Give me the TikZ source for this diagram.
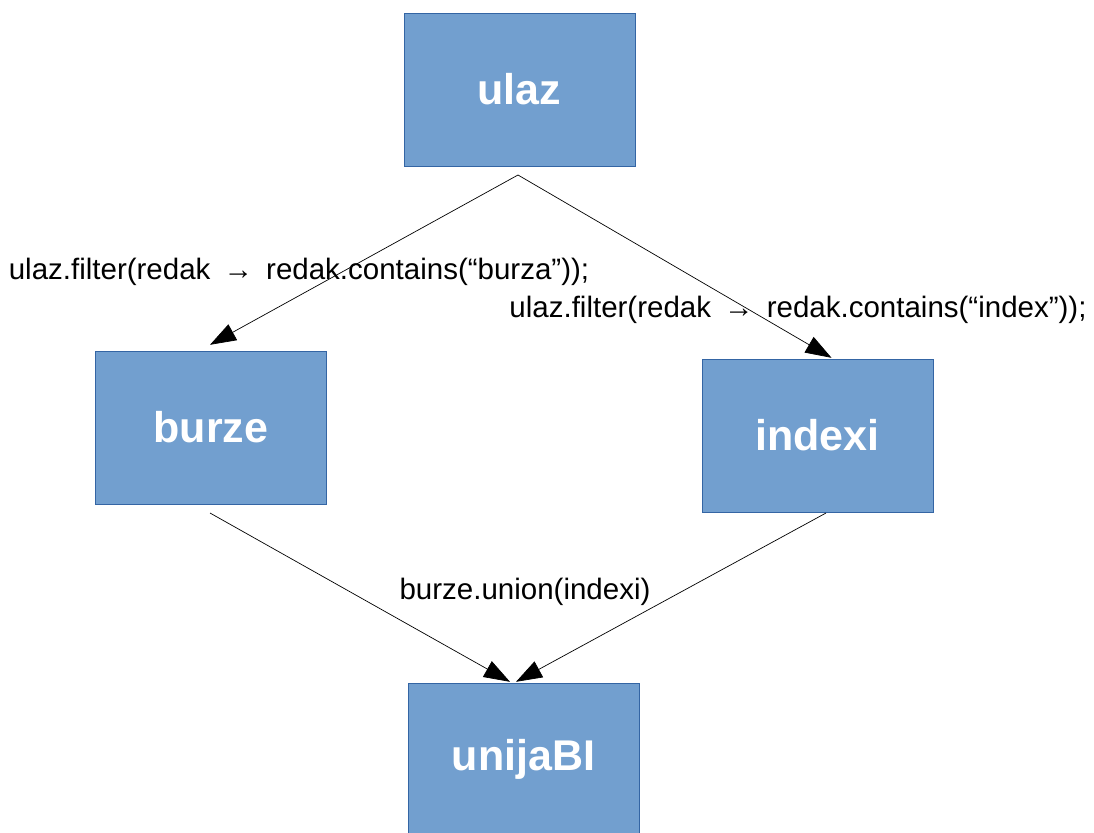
\documentclass[tikz,border=0pt]{standalone}
\usepackage{fontspec}
\setmainfont{Liberation Sans}
\usetikzlibrary{calc,arrows.meta}
\definecolor{boxfill}{HTML}{729FCF}
\definecolor{boxline}{HTML}{3465A4}
\tikzset{
  blok/.style={draw=boxline,fill=boxfill,minimum width=231pt,minimum height=153pt,
    inner sep=0pt,text=white,font=\fontsize{43}{50}\selectfont\bfseries},
  tok/.style={draw=black,line width=0.7pt,-{Triangle[length=26pt,width=18pt]}},
  opis/.style={inner sep=0pt,font=\fontsize{29.5}{34}\selectfont}
}
\begin{document}
\begin{tikzpicture}[x=1pt,y=-1pt]
\useasboundingbox (0,0) rectangle (1094,832);
\begin{scope}
\clip (0,0) rectangle (1094,832);
\node[blok] (ulaz) at (519.5,89.5) {ulaz};
\node[blok] (burze) at (211,427.5) {burze};
\node[blok] (indexi) at (817.5,435.5) {indexi};
\node[blok] (unija) at (523.5,759.5) {unijaBI};
\end{scope}

\coordinate (grana) at (518,175);
\coordinate (izB) at (210,513);
\coordinate (izI) at (826,513);

\draw[tok] (grana) -- ($(burze.north)+(-1,-6)$);
\draw[tok] (grana) -- ($(indexi.north)+(14,-1)$);
\draw[tok] (izB) -- ($(unija.north)+(-13.5,-1)$);
\draw[tok] (izI) -- ($(unija.north)+(-7.5,-1)$);

\node[opis] (lb) at (299,272) {ulaz.filter(redak \,\textrightarrow\, redak.contains(“burza”));};
\node[opis] (li) at (798,310) {ulaz.filter(redak \,\textrightarrow\, redak.contains(“index”));};
\node[opis] (lu) at (525,592) {burze.union(indexi)};
\end{tikzpicture}
\end{document}
